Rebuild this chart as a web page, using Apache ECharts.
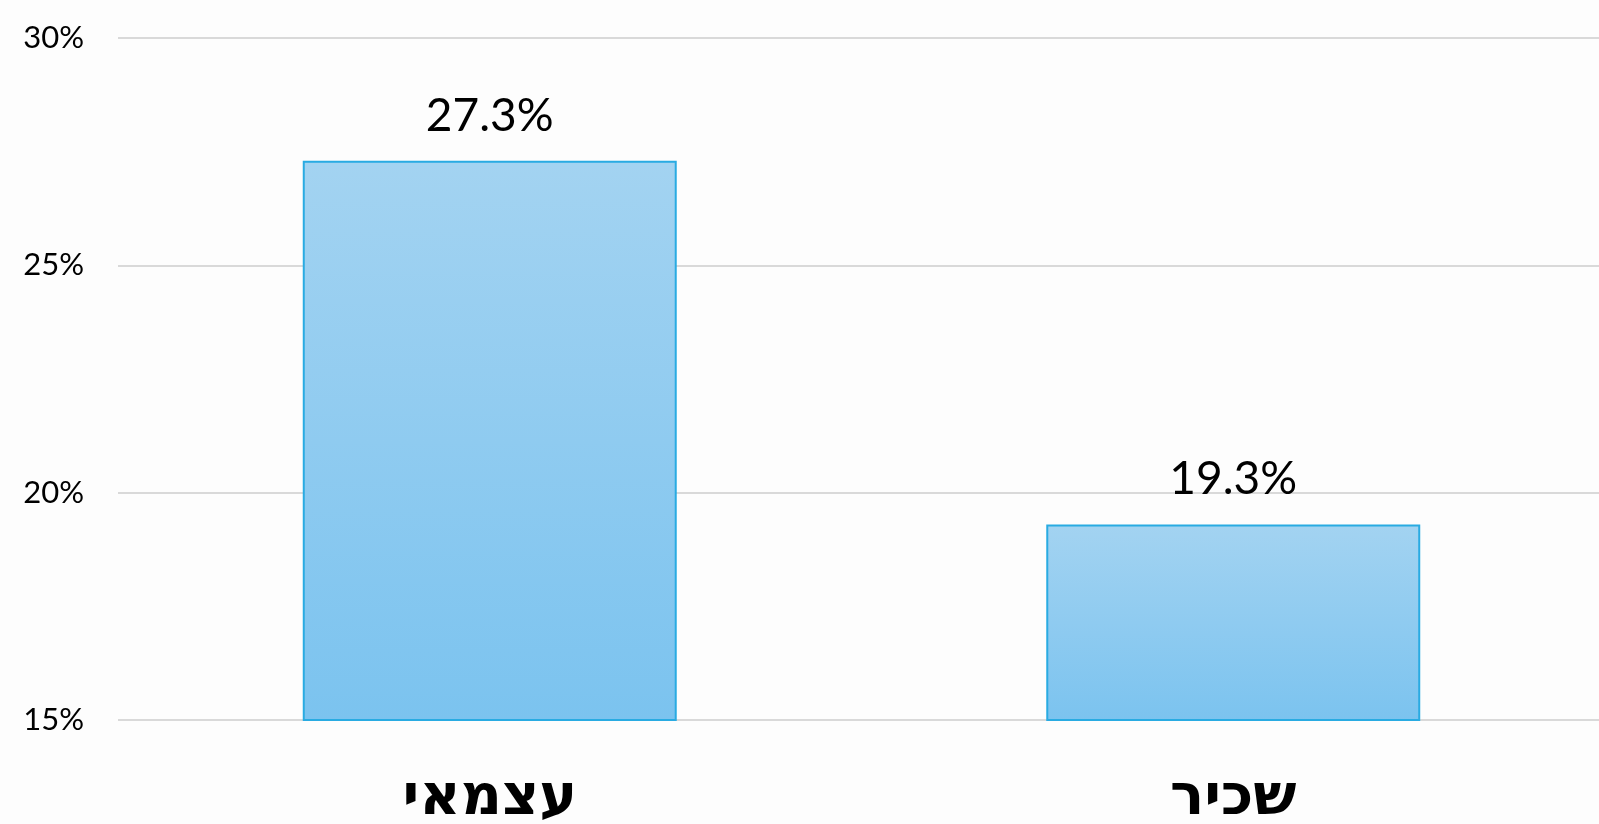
<!DOCTYPE html>
<html>
<head>
<meta charset="utf-8">
<script src="https://cdn.jsdelivr.net/npm/echarts@6/dist/echarts.min.js"></script>
<style>
html,body{margin:0;padding:0;background:#fdfdfd;}
#c{width:1599px;height:824px;}
</style>
</head>
<body>
<div id="c"></div>
<script>
const categories = ['עצמאי', 'שכיר'];
const values = [27.3, 19.3];
const yTicks = [15, 20, 25, 30];

const chart = echarts.init(document.getElementById('c'), null, {renderer: 'canvas'});
chart.setOption({
  backgroundColor: '#fdfdfd',
  animation: false,
  grid: {left: 118, width: 1487, top: 38, bottom: 104, containLabel: false, outerBoundsMode: 'none'},
  xAxis: {
    type: 'category',
    data: categories,
    axisLine: {show: false},
    axisTick: {show: false},
    axisLabel: {
      margin: 51,
      fontFamily: 'DejaVu Sans',
      fontWeight: 'bold',
      fontSize: 57,
      color: '#000'
    }
  },
  yAxis: {
    type: 'value',
    min: yTicks[0],
    max: yTicks[yTicks.length - 1],
    interval: 5,
    axisLine: {show: false},
    axisTick: {show: false},
    axisLabel: {
      margin: 34,
      fontFamily: 'Lato',
      fontSize: 31,
      color: '#000',
      formatter: v => v + '%'
    },
    splitLine: {lineStyle: {color: '#d9d9d9', width: 2}}
  },
  series: [{
    type: 'bar',
    data: values,
    barWidth: '50.3%',
    itemStyle: {
      color: new echarts.graphic.LinearGradient(0, 0, 0, 1, [
        {offset: 0, color: '#a3d3f1'},
        {offset: 1, color: '#7bc3ef'}
      ]),
      borderColor: '#29abe2',
      borderWidth: 2
    },
    label: {
      show: true,
      position: 'top',
      distance: 22,
      fontFamily: 'Lato',
      fontSize: 46,
      color: '#000',
      formatter: p => p.value.toFixed(1) + '%'
    }
  }]
});
</script>
</body>
</html>
